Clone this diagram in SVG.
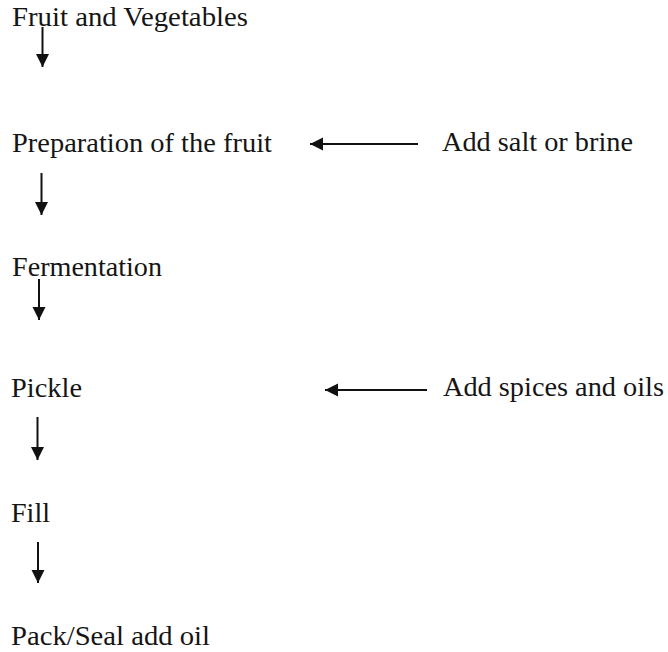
<svg xmlns="http://www.w3.org/2000/svg" width="668" height="652" viewBox="0 0 668 652">
<style>
text{font-family:"Liberation Serif","Times New Roman",serif;font-size:27px;fill:#151515}
.c{stroke:#111;stroke-width:2;fill:none}
</style>
<defs>
<marker id="ah" markerUnits="userSpaceOnUse" markerWidth="16" markerHeight="16" viewBox="0 0 16 16" refX="13" refY="8" orient="auto">
<path d="M0,1.5 L13,8 L0,14.5 Z" fill="#111"/>
</marker>
</defs>
<rect width="668" height="652" fill="#fff"/>
<g id="n1"><text x="12" y="26" textLength="236" lengthAdjust="spacingAndGlyphs">Fruit and Vegetables</text></g>
<g id="n2"><text x="12" y="152" textLength="260" lengthAdjust="spacingAndGlyphs">Preparation of the fruit</text></g>
<g id="n3"><text x="442" y="151" textLength="191" lengthAdjust="spacingAndGlyphs">Add salt or brine</text></g>
<g id="n4"><text x="12" y="276" textLength="150" lengthAdjust="spacingAndGlyphs">Fermentation</text></g>
<g id="n5"><text x="11" y="397" textLength="71" lengthAdjust="spacingAndGlyphs">Pickle</text></g>
<g id="n6"><text x="443" y="396" textLength="221" lengthAdjust="spacingAndGlyphs">Add spices and oils</text></g>
<g id="n7"><text x="11" y="522" textLength="39" lengthAdjust="spacingAndGlyphs">Fill</text></g>
<g id="n8"><text x="11" y="645" textLength="199" lengthAdjust="spacingAndGlyphs">Pack/Seal add oil</text></g>
<g id="connectors">
<line class="c" x1="42.5" y1="27" x2="42.5" y2="67" marker-end="url(#ah)"/>
<line class="c" x1="41.5" y1="173" x2="41.5" y2="215" marker-end="url(#ah)"/>
<line class="c" x1="418" y1="144" x2="310" y2="144" marker-end="url(#ah)"/>
<line class="c" x1="39" y1="279" x2="39" y2="320" marker-end="url(#ah)"/>
<line class="c" x1="427" y1="390" x2="325" y2="390" marker-end="url(#ah)"/>
<line class="c" x1="37.5" y1="417" x2="37.5" y2="460" marker-end="url(#ah)"/>
<line class="c" x1="38" y1="542" x2="38" y2="583" marker-end="url(#ah)"/>
</g>
</svg>
